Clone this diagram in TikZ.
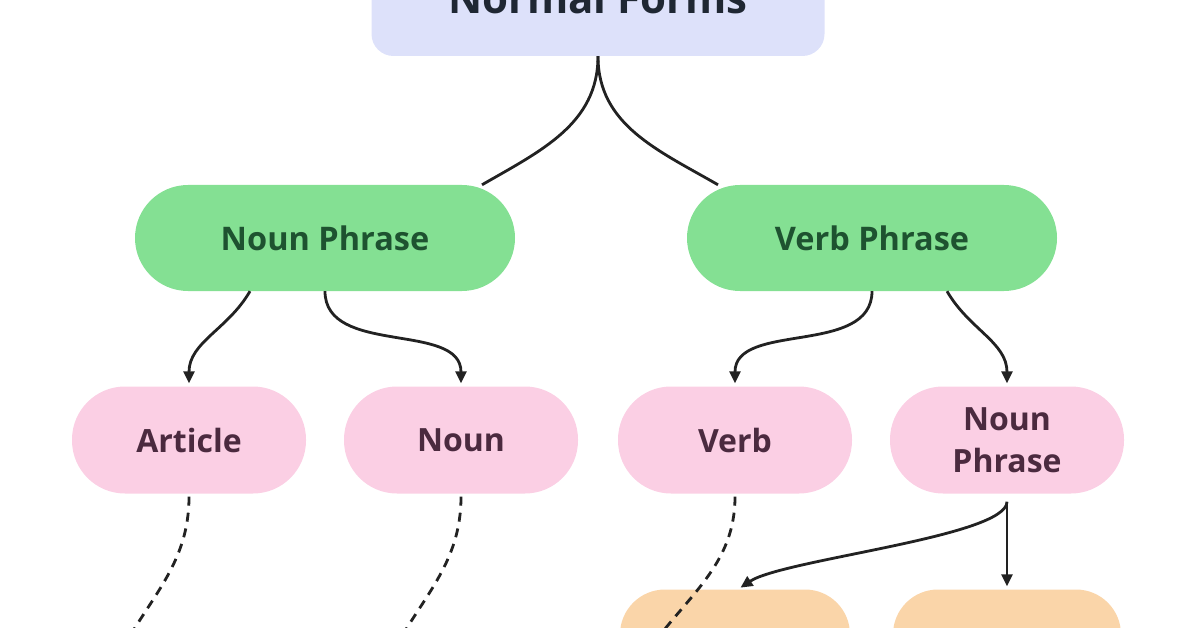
\documentclass[tikz,border=0pt]{standalone}
\usepackage{fontspec}
\setmainfont{Open Sans}
\usetikzlibrary{positioning}
\usetikzlibrary{arrows.meta}

\definecolor{nfFill}{HTML}{DDE1FA}
\definecolor{nfText}{HTML}{1F2733}
\definecolor{phFill}{HTML}{84E093}
\definecolor{phText}{HTML}{1E5230}
\definecolor{wdFill}{HTML}{FBCFE4}
\definecolor{wdText}{HTML}{4B2A3F}
\definecolor{lfFill}{HTML}{FAD5A9}
\definecolor{lnColor}{HTML}{222222}

\begin{document}
\begin{tikzpicture}[x=1pt,y=1pt,
  topbox/.style={fill=nfFill, text=nfText, rounded corners=22pt, minimum width=453pt,
    minimum height=116pt, font=\fontsize{42}{50}\selectfont\bfseries},
  phrasebox/.style={fill=phFill, text=phText, rounded corners=53pt, minimum height=106pt,
    font=\fontsize{32.5}{42}\selectfont\bfseries},
  wordbox/.style={fill=wdFill, text=wdText, rounded corners=53pt, minimum width=234pt,
    minimum height=107pt, align=center, font=\fontsize{32}{42}\selectfont\bfseries},
  leafbox/.style={fill=lfFill, rounded corners=45pt, minimum height=107pt},
  link/.style={draw=lnColor, line width=2.8pt},
  arr/.style={link, -{Triangle[length=12pt,width=11pt]}, shorten >=3pt},
  dashlink/.style={link, dash pattern=on 9pt off 7pt, shorten <=3pt}]
\useasboundingbox (0,0) rectangle (1196,-628);
\node[topbox] (nf) at (598,2) {Normal Forms};
\node[phrasebox, minimum width=380pt] (np) at (325,-238) {Noun Phrase};
\node[phrasebox, minimum width=370pt] (vp) at (872,-238) {Verb Phrase};
\node[wordbox] (art) at (189,-440) {Article};
\node[wordbox] (nn) at (461,-440) {Noun};
\node[wordbox] (vb) at (735,-440) {Verb};
\node[wordbox] (np2) at (1007,-440) {Noun\\Phrase};
\node[leafbox, minimum width=230pt] (o1) at (735,-643) {};
\node[leafbox, minimum width=228pt] (o2) at (1007,-643) {};
\coordinate (d1) at (116,-660);
\coordinate (d2) at (388,-660);
\coordinate (d3) at (645,-655);
\draw[link] (nf.south) to[out=-90,in=30] ([xshift=157pt]np.north);
\draw[link] (nf.south) to[out=-90,in=150] ([xshift=-154pt]vp.north);
\draw[arr] ([xshift=-75pt]np.south) to[out=-120,in=90] (art.north);
\draw[arr] (np.south) to[out=-90,in=90] (nn.north);
\draw[arr] (vp.south) to[out=-90,in=90] (vb.north);
\draw[arr] ([xshift=75pt]vp.south) to[out=-60,in=90] (np2.north);
\draw[arr, shorten <=8pt] (np2.south) -- (o2.north);
\draw[arr] ([yshift=-8pt]np2.south) .. controls +(0,-35) and +(45,30) .. ([xshift=3pt]o1.north);
\draw[dashlink] (art.south) to[out=-90,in=62] (d1);
\draw[dashlink] (nn.south) to[out=-90,in=62] (d2);
\draw[dashlink] (vb.south) to[out=-90,in=55] (d3);
\end{tikzpicture}
\end{document}
